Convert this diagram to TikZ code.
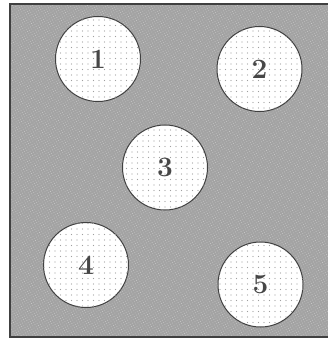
\documentclass[tikz,border=0pt]{standalone}
\usetikzlibrary{patterns.meta}
\definecolor{bg}{gray}{0.64}
\definecolor{edge}{gray}{0.25}
\definecolor{digit}{gray}{0.28}
\begin{document}
\begin{tikzpicture}[x=1pt,y=-1pt,
  disc/.style={circle,draw=edge,line width=1pt,fill=white,minimum size=85pt,inner sep=0pt,
    font=\fontsize{28}{30}\selectfont\bfseries,text=digit,
    postaction={pattern={Dots[distance=5.5pt,radius=0.55pt]},pattern color=gray!75}},
  frame/.style={draw=edge,line width=1.2pt}]
\useasboundingbox (0,0) rectangle (328,339);
\fill[bg] (10,4) rectangle (328,337);
\fill[pattern={Dots[distance=2.5pt,radius=0.5pt,angle=30]},pattern color=gray!45!white] (10,4) rectangle (328,337);
\draw[frame] (328,4) -- (10,4) -- (10,337) -- (328,337);
\node[disc] (c1) at (98,59) {1};
\node[disc] (c2) at (259.5,69) {2};
\node[disc] (c3) at (165,167.5) {3};
\node[disc] (c4) at (86,265) {4};
\node[disc] (c5) at (260.5,284.5) {5};
\end{tikzpicture}
\end{document}
